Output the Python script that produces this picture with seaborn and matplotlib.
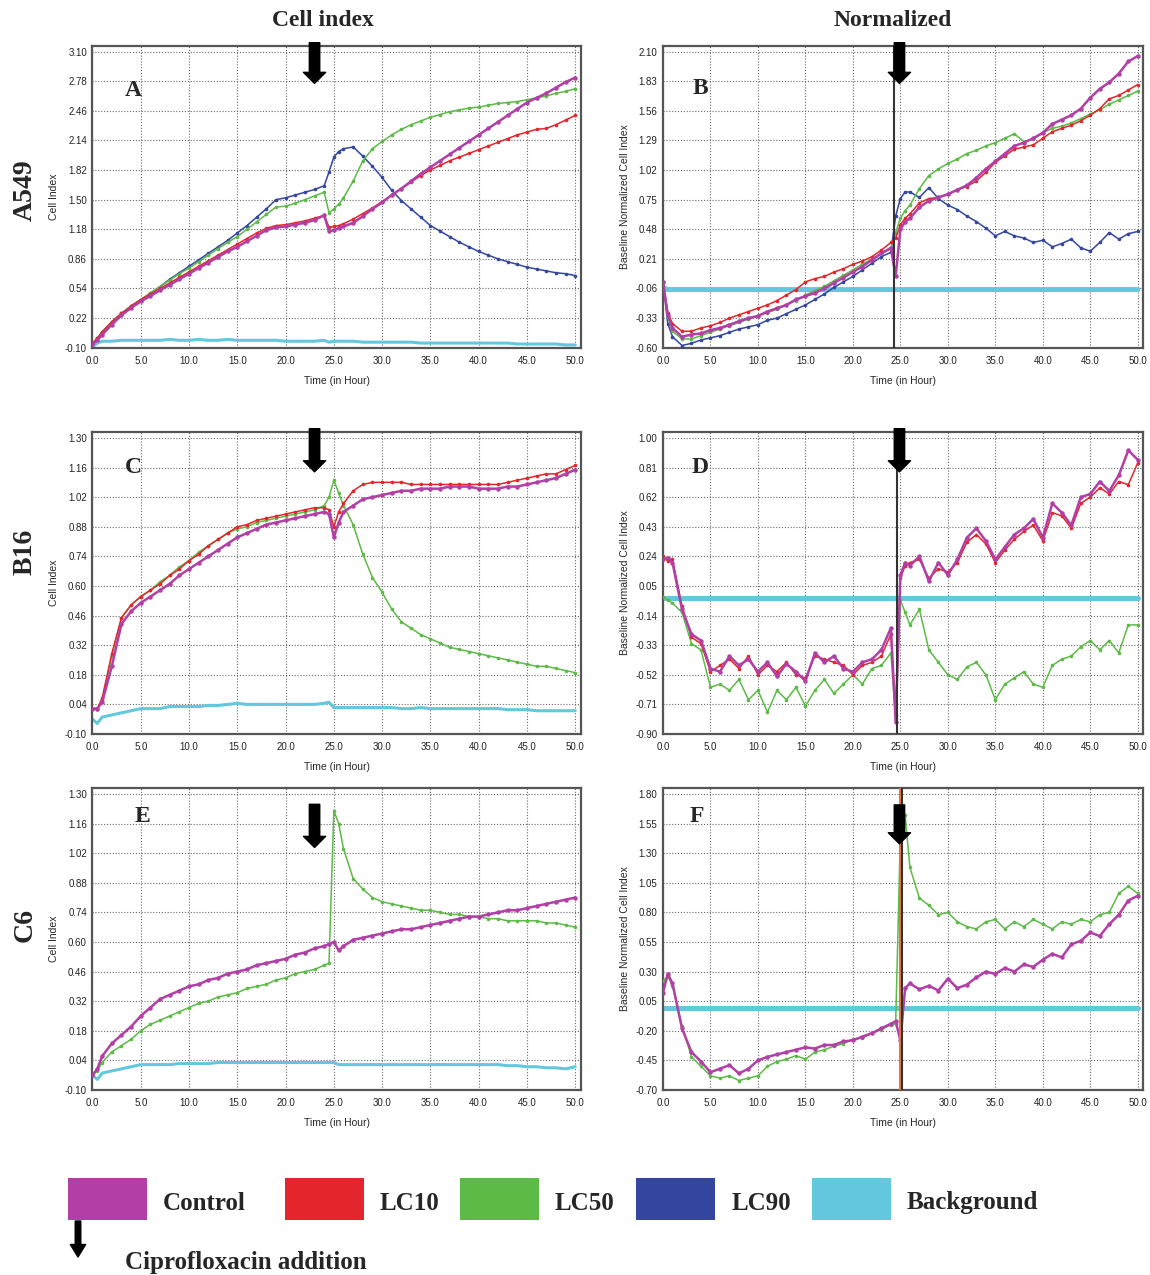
import matplotlib
matplotlib.use("Agg")
import matplotlib.pyplot as plt
import pandas as pd
import seaborn as sns
from matplotlib.patches import Rectangle
from matplotlib.ticker import AutoMinorLocator, FixedLocator, FormatStrFormatter, MultipleLocator

# sampling times (hours) shared by every trace
HOURS = [0, 0.5, 1, 2, 3, 4, 5, 6,
         7, 8, 9, 10, 11, 12, 13, 14, 15, 16,
         17, 18, 19, 20, 21, 22, 23, 24,
         24.5, 25, 25.5,
         26, 27, 28, 29, 30, 31, 32, 33, 34, 35, 36, 37,
         38, 39, 40, 41, 42, 43, 44, 45, 46, 47, 48, 49, 50]

X_TICKS = [0, 5, 10, 15, 20, 25, 30, 35, 40, 45, 50]

# ---- A549, cell index ----
A_YTICKS = [-0.10, 0.22, 0.54, 0.86, 1.18, 1.50, 1.82, 2.14, 2.46, 2.78, 3.10]
A_CONTROL = [-0.06, -0.02, 0.04, 0.15, 0.25, 0.33, 0.40, 0.46,
             0.52, 0.58, 0.64, 0.70, 0.76, 0.82, 0.88, 0.94, 0.99, 1.05,
             1.11, 1.17, 1.20, 1.21, 1.23, 1.25, 1.28, 1.33,
             1.16, 1.17, 1.19,
             1.21, 1.25, 1.32, 1.40, 1.47, 1.55, 1.62, 1.70, 1.78, 1.85, 1.92, 1.99,
             2.06, 2.13, 2.20, 2.27, 2.34, 2.41, 2.48, 2.55, 2.60, 2.65, 2.71, 2.77, 2.82]
A_LC10 = [-0.05, 0.00, 0.07, 0.18, 0.27, 0.35, 0.42, 0.48,
          0.54, 0.60, 0.66, 0.72, 0.78, 0.84, 0.90, 0.96, 1.02, 1.08,
          1.14, 1.19, 1.22, 1.23, 1.25, 1.27, 1.30, 1.33,
          1.20, 1.21, 1.22,
          1.24, 1.29, 1.35, 1.41, 1.48, 1.55, 1.62, 1.69, 1.76, 1.82, 1.87, 1.92,
          1.96, 2.00, 2.04, 2.08, 2.12, 2.16, 2.20, 2.23, 2.26, 2.27, 2.31, 2.36, 2.41]
A_LC50 = [-0.05, 0.00, 0.07, 0.18, 0.27, 0.35, 0.42, 0.49,
          0.56, 0.63, 0.70, 0.76, 0.83, 0.90, 0.97, 1.04, 1.10, 1.18,
          1.26, 1.34, 1.42, 1.43, 1.46, 1.50, 1.54, 1.58,
          1.36, 1.40, 1.45,
          1.52, 1.70, 1.92, 2.05, 2.13, 2.20, 2.26, 2.31, 2.35, 2.39, 2.42, 2.45,
          2.47, 2.49, 2.50, 2.52, 2.54, 2.55, 2.56, 2.58, 2.60, 2.62, 2.65, 2.67, 2.70]
A_LC90 = [-0.05, 0.00, 0.07, 0.18, 0.27, 0.35, 0.42, 0.49,
          0.56, 0.64, 0.71, 0.78, 0.85, 0.92, 0.99, 1.06, 1.14, 1.22,
          1.31, 1.40, 1.50, 1.52, 1.55, 1.58, 1.61, 1.65,
          1.80, 1.96, 2.02,
          2.05, 2.07, 1.97, 1.86, 1.74, 1.60, 1.49, 1.40, 1.31, 1.22, 1.16, 1.10,
          1.04, 0.99, 0.94, 0.90, 0.86, 0.83, 0.80, 0.77, 0.75, 0.73, 0.71, 0.70, 0.68]
A_BG = [-0.09, -0.05, -0.03, -0.03, -0.02, -0.02, -0.02, -0.02,
        -0.02, -0.01, -0.02, -0.02, -0.01, -0.02, -0.02, -0.01, -0.02, -0.02,
        -0.02, -0.02, -0.02, -0.03, -0.03, -0.03, -0.03, -0.02,
        -0.04, -0.03, -0.03,
        -0.03, -0.03, -0.04, -0.04, -0.04, -0.04, -0.04, -0.04, -0.05, -0.05, -0.05, -0.05,
        -0.05, -0.05, -0.05, -0.05, -0.05, -0.05, -0.06, -0.06, -0.06, -0.06, -0.06, -0.07, -0.07]

# ---- A549, normalized ----
B_YTICKS = [-0.60, -0.33, -0.06, 0.21, 0.48, 0.75, 1.02, 1.29, 1.56, 1.83, 2.10]
B_CONTROL = [0.00, -0.30, -0.42, -0.50, -0.48, -0.47, -0.44, -0.42,
             -0.39, -0.36, -0.33, -0.31, -0.27, -0.24, -0.21, -0.16, -0.13, -0.10,
             -0.06, -0.01, 0.04, 0.09, 0.14, 0.20, 0.26, 0.31,
             0.05, 0.48, 0.55,
             0.58, 0.68, 0.74, 0.77, 0.80, 0.84, 0.88, 0.95, 1.03, 1.10, 1.17, 1.24,
             1.27, 1.31, 1.36, 1.44, 1.48, 1.52, 1.58, 1.68, 1.76, 1.82, 1.90, 2.01, 2.06]
B_LC10 = [0.00, -0.28, -0.38, -0.45, -0.45, -0.42, -0.40, -0.37,
          -0.33, -0.30, -0.27, -0.24, -0.21, -0.17, -0.12, -0.07, 0.00, 0.03,
          0.05, 0.09, 0.12, 0.16, 0.19, 0.23, 0.29, 0.36,
          0.40, 0.52, 0.58,
          0.62, 0.72, 0.76, 0.77, 0.80, 0.84, 0.87, 0.92, 1.00, 1.09, 1.15, 1.21,
          1.23, 1.25, 1.31, 1.37, 1.40, 1.43, 1.47, 1.52, 1.58, 1.67, 1.70, 1.75, 1.80]
B_LC50 = [0.00, -0.32, -0.45, -0.52, -0.52, -0.49, -0.46, -0.43,
          -0.40, -0.37, -0.34, -0.31, -0.28, -0.25, -0.21, -0.17, -0.12, -0.08,
          -0.04, 0.01, 0.06, 0.11, 0.16, 0.21, 0.26, 0.30,
          0.45, 0.58, 0.65,
          0.70, 0.85, 0.97, 1.03, 1.08, 1.12, 1.17, 1.20, 1.24, 1.27, 1.31, 1.35,
          1.28, 1.30, 1.36, 1.40, 1.42, 1.45, 1.49, 1.53, 1.57, 1.62, 1.66, 1.70, 1.74]
B_LC90 = [0.00, -0.38, -0.50, -0.58, -0.56, -0.53, -0.51, -0.49,
          -0.46, -0.43, -0.41, -0.39, -0.35, -0.33, -0.29, -0.25, -0.21, -0.16,
          -0.11, -0.05, 0.00, 0.05, 0.11, 0.17, 0.23, 0.27,
          0.60, 0.76, 0.82,
          0.82, 0.77, 0.86, 0.76, 0.70, 0.66, 0.60, 0.55, 0.49, 0.42, 0.46, 0.42,
          0.40, 0.36, 0.38, 0.32, 0.35, 0.39, 0.31, 0.28, 0.36, 0.45, 0.39, 0.44, 0.46]
B_BG = [-0.05, -0.07, -0.07, -0.07, -0.07, -0.07, -0.07, -0.07,
        -0.07, -0.07, -0.07, -0.07, -0.07, -0.07, -0.07, -0.07, -0.07, -0.07,
        -0.07, -0.07, -0.07, -0.07, -0.07, -0.07, -0.07, -0.07,
        -0.07, -0.07, -0.07,
        -0.07, -0.07, -0.07, -0.07, -0.07, -0.07, -0.07, -0.07, -0.07, -0.07, -0.07, -0.07,
        -0.07, -0.07, -0.07, -0.07, -0.07, -0.07, -0.07, -0.07, -0.07, -0.07, -0.07, -0.07, -0.07]

# ---- B16, cell index ----
C_YTICKS = [-0.10, 0.04, 0.18, 0.32, 0.46, 0.60, 0.74, 0.88, 1.02, 1.16, 1.30]
C_CONTROL = [0.02, 0.02, 0.05, 0.22, 0.42, 0.48, 0.52, 0.55,
             0.58, 0.61, 0.65, 0.68, 0.71, 0.74, 0.77, 0.80, 0.83, 0.85,
             0.87, 0.89, 0.90, 0.91, 0.92, 0.93, 0.94, 0.95,
             0.94, 0.83, 0.90,
             0.95, 0.98, 1.01, 1.02, 1.03, 1.04, 1.05, 1.05, 1.06, 1.06, 1.06, 1.07,
             1.07, 1.07, 1.06, 1.06, 1.06, 1.07, 1.07, 1.08, 1.09, 1.10, 1.11, 1.13, 1.15]
C_LC10 = [0.02, 0.02, 0.07, 0.28, 0.45, 0.51, 0.55, 0.58,
          0.61, 0.65, 0.68, 0.72, 0.75, 0.79, 0.82, 0.85, 0.88, 0.89,
          0.91, 0.92, 0.93, 0.94, 0.95, 0.96, 0.97, 0.97,
          0.96, 0.88, 0.95,
          0.99, 1.05, 1.08, 1.09, 1.09, 1.09, 1.09, 1.08, 1.08, 1.08, 1.08, 1.08,
          1.08, 1.08, 1.08, 1.08, 1.08, 1.09, 1.10, 1.11, 1.12, 1.13, 1.13, 1.15, 1.17]
C_LC50 = [0.02, 0.02, 0.06, 0.27, 0.45, 0.51, 0.55, 0.58,
          0.62, 0.65, 0.69, 0.72, 0.76, 0.79, 0.82, 0.85, 0.87, 0.88,
          0.90, 0.91, 0.92, 0.93, 0.94, 0.95, 0.96, 0.98,
          1.02, 1.10, 1.04,
          0.98, 0.89, 0.75, 0.64, 0.57, 0.49, 0.43, 0.40, 0.37, 0.35, 0.33, 0.31,
          0.30, 0.29, 0.28, 0.27, 0.26, 0.25, 0.24, 0.23, 0.22, 0.22, 0.21, 0.20, 0.19]
C_BG = [-0.03, -0.05, -0.02, -0.01, 0.00, 0.01, 0.02, 0.02,
        0.02, 0.03, 0.03, 0.03, 0.03, 0.035, 0.035, 0.04, 0.045, 0.04,
        0.04, 0.04, 0.04, 0.04, 0.04, 0.04, 0.04, 0.045,
        0.05, 0.025, 0.025,
        0.025, 0.025, 0.025, 0.025, 0.025, 0.025, 0.02, 0.02, 0.025, 0.02, 0.02, 0.02,
        0.02, 0.02, 0.02, 0.02, 0.02, 0.015, 0.015, 0.015, 0.01, 0.01, 0.01, 0.01, 0.01]

# ---- B16, normalized ----
D_YTICKS = [-0.90, -0.71, -0.52, -0.33, -0.14, 0.05, 0.24, 0.43, 0.62, 0.81, 1.00]
D_CONTROL = [0.22, 0.23, 0.20, -0.10, -0.26, -0.30, -0.48, -0.50,
             -0.40, -0.46, -0.42, -0.50, -0.44, -0.53, -0.45, -0.50, -0.56, -0.38,
             -0.44, -0.40, -0.48, -0.50, -0.44, -0.42, -0.36, -0.22,
             -0.82, 0.12, 0.20,
             0.18, 0.24, 0.08, 0.20, 0.12, 0.22, 0.36, 0.42, 0.34, 0.22, 0.30, 0.38,
             0.42, 0.48, 0.36, 0.58, 0.52, 0.44, 0.62, 0.64, 0.72, 0.66, 0.76, 0.92, 0.86]
D_LC10 = [0.24, 0.21, 0.22, -0.08, -0.28, -0.32, -0.50, -0.46,
          -0.42, -0.48, -0.40, -0.52, -0.46, -0.50, -0.44, -0.52, -0.54, -0.40,
          -0.42, -0.44, -0.46, -0.52, -0.46, -0.44, -0.40, -0.26,
          -0.78, 0.10, 0.18,
          0.20, 0.22, 0.10, 0.16, 0.14, 0.20, 0.33, 0.38, 0.32, 0.20, 0.28, 0.35,
          0.40, 0.44, 0.34, 0.52, 0.50, 0.42, 0.58, 0.62, 0.68, 0.64, 0.72, 0.70, 0.84]
D_LC50 = [-0.02, -0.04, -0.06, -0.12, -0.32, -0.36, -0.60, -0.58,
          -0.62, -0.55, -0.68, -0.62, -0.76, -0.62, -0.68, -0.60, -0.72, -0.62,
          -0.55, -0.64, -0.58, -0.52, -0.58, -0.48, -0.46, -0.38,
          -0.80, -0.04, -0.12,
          -0.20, -0.10, -0.36, -0.44, -0.52, -0.55, -0.47, -0.44, -0.52, -0.68, -0.58, -0.54,
          -0.50, -0.58, -0.60, -0.46, -0.42, -0.40, -0.34, -0.30, -0.36, -0.30, -0.38, -0.20, -0.20]
D_BG = [-0.03, -0.03, -0.03, -0.03, -0.03, -0.03, -0.03, -0.03,
        -0.03, -0.03, -0.03, -0.03, -0.03, -0.03, -0.03, -0.03, -0.03, -0.03,
        -0.03, -0.03, -0.03, -0.03, -0.03, -0.03, -0.03, -0.03,
        -0.03, -0.03, -0.03,
        -0.03, -0.03, -0.03, -0.03, -0.03, -0.03, -0.03, -0.03, -0.03, -0.03, -0.03, -0.03,
        -0.03, -0.03, -0.03, -0.03, -0.03, -0.03, -0.03, -0.03, -0.03, -0.03, -0.03, -0.03, -0.03]

# ---- C6, cell index ----
E_YTICKS = [-0.10, 0.04, 0.18, 0.32, 0.46, 0.60, 0.74, 0.88, 1.02, 1.16, 1.30]
E_CONTROL = [-0.03, 0.00, 0.06, 0.12, 0.16, 0.20, 0.25, 0.29,
             0.33, 0.35, 0.37, 0.39, 0.40, 0.42, 0.43, 0.45, 0.46, 0.47,
             0.49, 0.50, 0.51, 0.52, 0.54, 0.55, 0.57, 0.58,
             0.59, 0.60, 0.56,
             0.58, 0.61, 0.62, 0.63, 0.64, 0.65, 0.66, 0.66, 0.67, 0.68, 0.69, 0.70,
             0.71, 0.72, 0.72, 0.73, 0.74, 0.75, 0.75, 0.76, 0.77, 0.78, 0.79, 0.80, 0.81]
E_LC50 = [-0.03, -0.01, 0.03, 0.08, 0.11, 0.14, 0.18, 0.21,
          0.23, 0.25, 0.27, 0.29, 0.31, 0.32, 0.34, 0.35, 0.36, 0.38,
          0.39, 0.40, 0.42, 0.43, 0.45, 0.46, 0.47, 0.49,
          0.50, 1.22, 1.16,
          1.04, 0.90, 0.85, 0.81, 0.79, 0.78, 0.77, 0.76, 0.75, 0.75, 0.74, 0.73,
          0.73, 0.72, 0.72, 0.71, 0.71, 0.70, 0.70, 0.70, 0.70, 0.69, 0.69, 0.68, 0.67]
E_BG = [-0.03, -0.05, -0.02, -0.01, 0.00, 0.01, 0.02, 0.02,
        0.02, 0.02, 0.025, 0.025, 0.025, 0.025, 0.03, 0.03, 0.03, 0.03,
        0.03, 0.03, 0.03, 0.03, 0.03, 0.03, 0.03, 0.03,
        0.03, 0.03, 0.02,
        0.02, 0.02, 0.02, 0.02, 0.02, 0.02, 0.02, 0.02, 0.02, 0.02, 0.02, 0.02,
        0.02, 0.02, 0.02, 0.02, 0.02, 0.015, 0.015, 0.01, 0.01, 0.005, 0.005, 0.00, 0.01]

# ---- C6, normalized ----
F_YTICKS = [-0.70, -0.45, -0.20, 0.05, 0.30, 0.55, 0.80, 1.05, 1.30, 1.55, 1.80]
F_CONTROL = [0.12, 0.28, 0.20, -0.18, -0.38, -0.46, -0.55, -0.52,
             -0.49, -0.56, -0.52, -0.45, -0.42, -0.40, -0.38, -0.36, -0.34, -0.35,
             -0.32, -0.32, -0.29, -0.28, -0.25, -0.22, -0.18, -0.14,
             -0.12, -0.28, 0.16,
             0.20, 0.15, 0.18, 0.14, 0.24, 0.16, 0.19, 0.25, 0.30, 0.28, 0.33, 0.30,
             0.36, 0.34, 0.40, 0.45, 0.42, 0.53, 0.56, 0.63, 0.60, 0.70, 0.78, 0.90, 0.94]
F_LC50 = [0.22, 0.26, 0.18, -0.16, -0.42, -0.50, -0.58, -0.60,
          -0.58, -0.62, -0.60, -0.58, -0.50, -0.46, -0.44, -0.41, -0.44, -0.38,
          -0.36, -0.33, -0.31, -0.27, -0.26, -0.22, -0.19, -0.15,
          -0.14, 1.45, 1.62,
          1.18, 0.92, 0.86, 0.78, 0.80, 0.72, 0.68, 0.66, 0.72, 0.74, 0.66, 0.72,
          0.68, 0.74, 0.70, 0.66, 0.72, 0.70, 0.74, 0.72, 0.78, 0.80, 0.96, 1.02, 0.96]
F_BG = [-0.01, -0.01, -0.01, -0.01, -0.01, -0.01, -0.01, -0.01,
        -0.01, -0.01, -0.01, -0.01, -0.01, -0.01, -0.01, -0.01, -0.01, -0.01,
        -0.01, -0.01, -0.01, -0.01, -0.01, -0.01, -0.01, -0.01,
        -0.01, -0.01, -0.01,
        -0.01, -0.01, -0.01, -0.01, -0.01, -0.01, -0.01, -0.01, -0.01, -0.01, -0.01, -0.01,
        -0.01, -0.01, -0.01, -0.01, -0.01, -0.01, -0.01, -0.01, -0.01, -0.01, -0.01, -0.01, -0.01]

# ciprofloxacin addition (hours) as marked on each panel
ARROW_HOURS = [23.0, 24.9, 23.0, 24.9, 23.0, 24.9]
VLINE_HOURS = {"B": [24.3], "D": [24.6], "F": [24.95, 25.2]}

GROUPS = ["Control", "LC10", "LC50", "LC90", "Background"]
COLORS = {"Control": "#B23FA6", "LC10": "#E4262C", "LC50": "#5DBA47",
          "LC90": "#3446A0", "Background": "#63C7DD"}
DRAW_ORDER = ["Background", "LC90", "LC50", "LC10", "Control"]

sns.set_style("white")
plt.rcParams["font.family"] = ["Liberation Sans", "DejaVu Sans"]
SERIF = ["Liberation Serif", "DejaVu Serif"]

W, H = 1150, 1275
fig = plt.figure(figsize=(W / 100, H / 100), dpi=100)


def box(left, top, right, bottom):
    return [left / W, 1 - bottom / H, (right - left) / W, (bottom - top) / H]


PANELS = [
    dict(letter="A", pos=box(92.5, 45.7, 580.5, 347.7), yticks=A_YTICKS, norm=False,
         series={"Background": A_BG, "LC90": A_LC90, "LC50": A_LC50, "LC10": A_LC10, "Control": A_CONTROL},
         letter_xy=(0.083, 0.853), arrow=(1.010, 0.875)),
    dict(letter="B", pos=box(663, 45.7, 1143, 347.7), yticks=B_YTICKS, norm=True,
         series={"Background": B_BG, "LC90": B_LC90, "LC50": B_LC50, "LC10": B_LC10, "Control": B_CONTROL},
         letter_xy=(0.077, 0.858), arrow=(1.010, 0.875)),
    dict(letter="C", pos=box(92.5, 432, 580.5, 734), yticks=C_YTICKS, norm=False,
         series={"Background": C_BG, "LC50": C_LC50, "LC10": C_LC10, "Control": C_CONTROL},
         letter_xy=(0.083, 0.881), arrow=(1.011, 0.868)),
    dict(letter="D", pos=box(663, 432, 1143, 734), yticks=D_YTICKS, norm=True,
         series={"Background": D_BG, "LC50": D_LC50, "LC10": D_LC10, "Control": D_CONTROL},
         letter_xy=(0.077, 0.881), arrow=(1.011, 0.868)),
    dict(letter="E", pos=box(92.5, 788, 580.5, 1090), yticks=E_YTICKS, norm=False,
         series={"Background": E_BG, "LC50": E_LC50, "Control": E_CONTROL},
         letter_xy=(0.103, 0.905), arrow=(0.946, 0.803)),
    dict(letter="F", pos=box(663, 788, 1143, 1090), yticks=F_YTICKS, norm=True,
         series={"Background": F_BG, "LC50": F_LC50, "Control": F_CONTROL},
         letter_xy=(0.071, 0.905), arrow=(0.944, 0.815)),
]

VLINE_COLORS = {"B": ["#333333"], "D": ["#333333"], "F": ["#E07848", "#333333"]}

for p, arrow_h in zip(PANELS, ARROW_HOURS):
    ax = fig.add_axes(p["pos"])
    for name in DRAW_ORDER:
        if name not in p["series"]:
            continue
        df = pd.DataFrame({"hour": HOURS, "value": p["series"][name]})
        if name == "Background":
            sns.lineplot(data=df, x="hour", y="value", ax=ax, color=COLORS[name],
                         lw=3.6 if p["norm"] else 2.2, estimator=None, sort=False,
                         legend=False, zorder=2)
        else:
            thick = name == "Control"
            sns.lineplot(data=df, x="hour", y="value", ax=ax, color=COLORS[name],
                         lw=1.8 if thick else 1.1, marker="o",
                         markersize=3.2 if thick else 2.6, markeredgewidth=0,
                         estimator=None, sort=False, legend=False, zorder=3)

    yt = p["yticks"]
    step = yt[1] - yt[0]
    ax.set_xlim(0, 50.55)
    ax.set_ylim(yt[0], yt[-1] + 0.2 * step)
    ax.xaxis.set_major_locator(FixedLocator(X_TICKS))
    ax.xaxis.set_major_formatter(FormatStrFormatter("%.1f"))
    ax.xaxis.set_minor_locator(MultipleLocator(1))
    ax.yaxis.set_major_locator(FixedLocator(yt))
    ax.yaxis.set_major_formatter(FormatStrFormatter("%.2f"))
    ax.yaxis.set_minor_locator(AutoMinorLocator(4))
    ax.tick_params(which="major", direction="in", length=4.5, width=1, color="#333333",
                   labelsize=7, labelcolor="#222222")
    ax.tick_params(axis="x", which="major", pad=6)
    ax.tick_params(axis="y", which="major", pad=4)
    ax.tick_params(which="minor", direction="in", length=2.5, width=0.9, color="#333333")
    ax.grid(True, which="major", linestyle=(0, (1, 1.6)), color="#6a6a6a", lw=0.8)
    for s in ax.spines.values():
        s.set_color("#555555")
        s.set_linewidth(1.6)

    ax.set_xlabel("Time (in Hour)", fontsize=7.5, labelpad=7)
    ax.set_ylabel("Baseline Normalized Cell Index" if p["norm"] else "Cell Index",
                  fontsize=7.5, labelpad=4)

    for h, c in zip(VLINE_HOURS.get(p["letter"], []), VLINE_COLORS.get(p["letter"], [])):
        ax.axvline(h, color=c, lw=1.5, zorder=4)

    tail, tip = p["arrow"]
    ax.annotate("", xy=(arrow_h, tip), xytext=(arrow_h, tail),
                xycoords=("data", "axes fraction"), textcoords=("data", "axes fraction"),
                arrowprops=dict(facecolor="black", edgecolor="black", width=7.5,
                                headwidth=16, headlength=8, shrink=0),
                annotation_clip=False, zorder=6)

    ax.text(*p["letter_xy"], p["letter"], transform=ax.transAxes, fontsize=17,
            fontweight="bold", family=SERIF, ha="center", va="center", zorder=7)

# column and row headings
fig.text(323 / W, 1 - 21 / H, "Cell index", fontsize=17, fontweight="bold",
         family=SERIF, ha="center", va="center")
fig.text(893 / W, 1 - 21 / H, "Normalized", fontsize=17, fontweight="bold",
         family=SERIF, ha="center", va="center")
for label, yc in [("A549", 190), ("B16", 552), ("C6", 925)]:
    fig.text(25 / W, 1 - yc / H, label, fontsize=20, fontweight="bold", family=SERIF,
             rotation=90, ha="center", va="center")

# legend
LEGEND_BOX_X = [68, 285, 460, 636, 812]
LEGEND_TEXT_X = [163, 380, 555, 732, 907]
for name, bx, tx in zip(GROUPS, LEGEND_BOX_X, LEGEND_TEXT_X):
    fig.add_artist(Rectangle((bx / W, 1 - 1220 / H), 79 / W, 42 / H,
                             transform=fig.transFigure, facecolor=COLORS[name],
                             edgecolor="none"))
    fig.text(tx / W, 1 - 1203 / H, name, fontsize=18, fontweight="bold", family=SERIF,
             ha="left", va="center")

ax.annotate("", xy=(78 / W, 1 - 1257 / H), xytext=(78 / W, 1 - 1221 / H),
            xycoords="figure fraction", textcoords="figure fraction",
            arrowprops=dict(facecolor="black", edgecolor="black", width=4,
                            headwidth=11, headlength=9, shrink=0),
            annotation_clip=False)
fig.text(125 / W, 1 - 1262 / H, "Ciprofloxacin addition", fontsize=18,
         fontweight="bold", family=SERIF, ha="left", va="center")

fig.savefig("out.png", dpi=100)
